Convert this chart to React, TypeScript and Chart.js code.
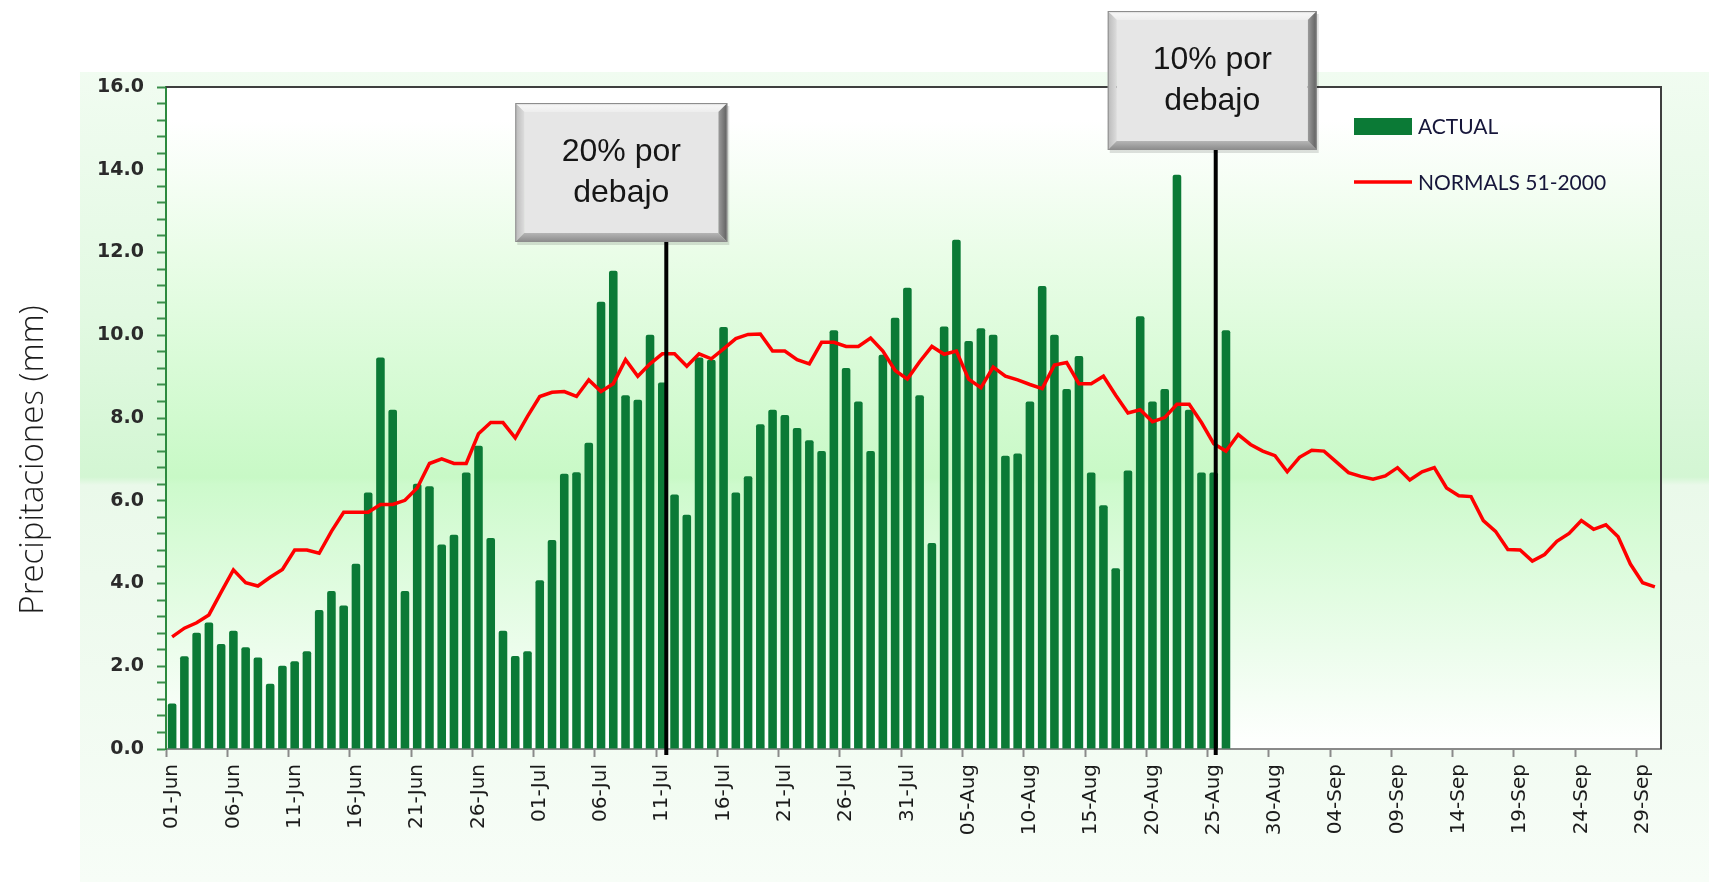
import React, { useEffect, useRef } from 'react';
import { Chart, registerables } from 'chart.js';

Chart.register(...registerables);

// ---------- categories (daily, 01-Jun .. 30-Sep) ----------
const MONTHS: [string, number][] = [
  ['Jun', 30],
  ['Jul', 31],
  ['Aug', 31],
  ['Sep', 30],
];
const CATEGORIES: string[] = [];
for (const [m, n] of MONTHS) {
  for (let d = 1; d <= n; d++) CATEGORIES.push(`${String(d).padStart(2, '0')}-${m}`);
}

// ---------- ACTUAL (mm) ----------
const ACTUAL_JUN = [
  1.1, 2.24, 2.81, 3.06, 2.54, 2.86, 2.46, 2.21, 1.58, 2.01,
  2.12, 2.36, 3.36, 3.82, 3.47, 4.48, 6.2, 9.46, 8.2, 3.82,
  6.41, 6.35, 4.94, 5.18, 6.68, 7.33, 5.1, 2.86, 2.25, 2.36,
];
const ACTUAL_JUL = [
  4.08, 5.05, 6.65, 6.69, 7.4, 10.81, 11.56, 8.55, 8.44, 10.01,
  8.86, 6.15, 5.66, 9.46, 9.41, 10.2, 6.2, 6.59, 7.85, 8.2,
  8.07, 7.76, 7.46, 7.2, 10.12, 9.21, 8.4, 7.2, 9.53, 10.42, 11.15,
];
const ACTUAL_AUG = [
  8.55, 4.98, 10.21, 12.31, 9.86, 10.17, 10.01, 7.09, 7.14, 8.4,
  11.19, 10.01, 8.7, 9.5, 6.68, 5.89, 4.37, 6.73, 10.46, 8.4,
  8.7, 13.88, 8.2, 6.68, 6.68, 10.12,
];

// ---------- NORMALS 51-2000 (mm) ----------
const NORMAL_JUN = [
  2.71, 2.92, 3.05, 3.24, 3.79, 4.33, 4.02, 3.94, 4.15, 4.34,
  4.81, 4.81, 4.73, 5.26, 5.72, 5.72, 5.72, 5.91, 5.91, 6.01,
  6.31, 6.9, 7.01, 6.9, 6.9, 7.62, 7.89, 7.89, 7.52, 8.04,
];
const NORMAL_JUL = [
  8.52, 8.62, 8.64, 8.52, 8.92, 8.64, 8.83, 9.41, 9.01, 9.31,
  9.55, 9.55, 9.25, 9.55, 9.43, 9.67, 9.92, 10.02, 10.03, 9.62,
  9.62, 9.41, 9.31, 9.83, 9.83, 9.73, 9.73, 9.93, 9.62, 9.15, 8.94,
];
const NORMAL_AUG = [
  9.36, 9.73, 9.54, 9.62, 8.94, 8.73, 9.23, 9.01, 8.92, 8.81,
  8.71, 9.28, 9.34, 8.83, 8.83, 9.01, 8.55, 8.12, 8.2, 7.91,
  8.01, 8.33, 8.33, 7.89, 7.38, 7.2, 7.6, 7.36, 7.2, 7.09, 6.7,
];
const NORMAL_SEP = [
  7.05, 7.22, 7.2, 6.94, 6.68, 6.59, 6.52, 6.6, 6.8, 6.5,
  6.7, 6.8, 6.31, 6.12, 6.1, 5.52, 5.26, 4.82, 4.81, 4.54,
  4.7, 5.02, 5.21, 5.52, 5.31, 5.42, 5.13, 4.47, 4.02, 3.92,
];

const ACTUAL = [...ACTUAL_JUN, ...ACTUAL_JUL, ...ACTUAL_AUG];
const NORMALS = [...NORMAL_JUN, ...NORMAL_JUL, ...NORMAL_AUG, ...NORMAL_SEP];

const SERIES_LABELS = ['ACTUAL', 'NORMALS 51-2000'];
const Y_TITLE = 'Precipitaciones (mm)';
const Y_MIN = 0;
const Y_MAX = 16;
const Y_MINOR_STEP = 0.4;
const Y_MAJOR_STEP = 2;
const LABEL_EVERY = 5;

// annotation callouts: category index + text
const CALLOUT_INDEX = [40, 85];
const CALLOUT_TEXT = [
  ['20% por', 'debajo'],
  ['10% por', 'debajo'],
];

const BAR_COLOR = '#0b7a36';
const LINE_COLOR = '#ff0000';

function drawBevelBox(ctx: CanvasRenderingContext2D, x: number, y: number, w: number, h: number, lines: string[]) {
  const b = 9;
  ctx.save();
  ctx.fillStyle = 'rgba(0,0,0,0.12)';
  ctx.fillRect(x + 2, y + 3, w, h);
  const gt = ctx.createLinearGradient(0, y, 0, y + b);
  gt.addColorStop(0, '#cfcfcf');
  gt.addColorStop(0.3, '#f6f6f6');
  gt.addColorStop(1, '#ededed');
  ctx.fillStyle = gt;
  ctx.beginPath();
  ctx.moveTo(x, y); ctx.lineTo(x + w, y); ctx.lineTo(x + w - b, y + b); ctx.lineTo(x + b, y + b); ctx.closePath();
  ctx.fill();
  const gl = ctx.createLinearGradient(x, 0, x + b, 0);
  gl.addColorStop(0, '#b9b9b9');
  gl.addColorStop(1, '#dcdcdc');
  ctx.fillStyle = gl;
  ctx.beginPath();
  ctx.moveTo(x, y); ctx.lineTo(x + b, y + b); ctx.lineTo(x + b, y + h - b); ctx.lineTo(x, y + h); ctx.closePath();
  ctx.fill();
  const gr = ctx.createLinearGradient(x + w - b, 0, x + w, 0);
  gr.addColorStop(0, '#9c9c9c');
  gr.addColorStop(1, '#5e5e5e');
  ctx.fillStyle = gr;
  ctx.beginPath();
  ctx.moveTo(x + w, y); ctx.lineTo(x + w, y + h); ctx.lineTo(x + w - b, y + h - b); ctx.lineTo(x + w - b, y + b); ctx.closePath();
  ctx.fill();
  const gb = ctx.createLinearGradient(0, y + h - b, 0, y + h);
  gb.addColorStop(0, '#b5b5b5');
  gb.addColorStop(1, '#8a8a8a');
  ctx.fillStyle = gb;
  ctx.beginPath();
  ctx.moveTo(x, y + h); ctx.lineTo(x + w, y + h); ctx.lineTo(x + w - b, y + h - b); ctx.lineTo(x + b, y + h - b); ctx.closePath();
  ctx.fill();
  ctx.fillStyle = '#e6e6e6';
  ctx.fillRect(x + b, y + b, w - 2 * b, h - 2 * b);
  ctx.strokeStyle = '#8d8d8d';
  ctx.lineWidth = 1;
  ctx.strokeRect(x + 0.5, y + 0.5, w - 1, h - 1);
  ctx.fillStyle = '#161616';
  ctx.font = '32px "Liberation Sans", Arial, sans-serif';
  ctx.textAlign = 'center';
  ctx.textBaseline = 'middle';
  const cx = x + w / 2;
  const cy = y + h / 2;
  ctx.fillText(lines[0], cx, cy - 20);
  ctx.fillText(lines[1], cx, cy + 21);
  ctx.restore();
}

const backgroundPlugin = {
  id: 'bgPlugin',
  beforeDraw(chart: any) {
    const { ctx, chartArea: a, width, height } = chart;
    ctx.save();
    ctx.fillStyle = '#ffffff';
    ctx.fillRect(0, 0, width, height);
    const g = ctx.createLinearGradient(0, 72, 0, height);
    g.addColorStop(0, '#f1fcf1');
    g.addColorStop(0.3, '#e2f9e2');
    g.addColorStop(0.5, '#d3f6d3');
    g.addColorStop(0.51, '#eaf9ea');
    g.addColorStop(1, '#f7fdf7');
    ctx.fillStyle = g;
    ctx.fillRect(80, 72, width - 80, height - 72);
    const p = ctx.createLinearGradient(0, a.top, 0, a.bottom);
    p.addColorStop(0, '#ffffff');
    p.addColorStop(0.05, '#ffffff');
    p.addColorStop(0.25, '#eafde8');
    p.addColorStop(0.59, '#c8f9c6');
    p.addColorStop(0.6, '#cdfacc');
    p.addColorStop(0.85, '#ecfdec');
    p.addColorStop(1, '#ffffff');
    ctx.fillStyle = p;
    ctx.fillRect(a.left, a.top, a.right - a.left, a.bottom - a.top);
    ctx.restore();
  },
};

const overlayPlugin = {
  id: 'overlayPlugin',
  afterDraw(chart: any) {
    const { ctx, chartArea: a } = chart;
    const xs = chart.scales.x;
    ctx.save();
    ctx.strokeStyle = '#3f3f3f';
    ctx.lineWidth = 2;
    ctx.beginPath();
    ctx.moveTo(a.left, a.top);
    ctx.lineTo(a.right, a.top);
    ctx.lineTo(a.right, a.bottom);
    ctx.stroke();

    // y-axis title
    ctx.save();
    ctx.translate(34, 460);
    ctx.rotate(-Math.PI / 2);
    ctx.fillStyle = '#1c1c1c';
    ctx.font = '300 33px "Open Sans", sans-serif';
    ctx.textAlign = 'center';
    ctx.textBaseline = 'middle';
    ctx.fillText(Y_TITLE, 0, 0);
    ctx.restore();

    // legend
    const lx = 1354;
    ctx.fillStyle = BAR_COLOR;
    ctx.fillRect(lx, 118, 58, 17);
    ctx.strokeStyle = LINE_COLOR;
    ctx.lineWidth = 3.5;
    ctx.beginPath();
    ctx.moveTo(lx, 182);
    ctx.lineTo(lx + 58, 182);
    ctx.stroke();
    ctx.fillStyle = '#16163a';
    ctx.font = '21px Lato, "Noto Sans", sans-serif';
    ctx.textAlign = 'left';
    ctx.textBaseline = 'middle';
    ctx.fillText(SERIES_LABELS[0], lx + 64, 127);
    ctx.fillText(SERIES_LABELS[1], lx + 64, 183);

    // callouts
    const boxes = [
      { dx: 4, left: 151, top: 103, w: 212, h: 139 },
      { dx: 2, left: 108, top: 11, w: 209, h: 139 },
    ];
    CALLOUT_INDEX.forEach((idx, i) => {
      const bx = boxes[i];
      const lineX = xs.getPixelForValue(idx) + bx.dx;
      ctx.strokeStyle = '#000000';
      ctx.lineWidth = 4;
      ctx.beginPath();
      ctx.moveTo(lineX, bx.top + bx.h);
      ctx.lineTo(lineX, a.bottom + 6);
      ctx.stroke();
      drawBevelBox(ctx, lineX - bx.left, bx.top, bx.w, bx.h, CALLOUT_TEXT[i]);
    });
    ctx.restore();
  },
};

function isMajor(v: number) {
  const r = v / Y_MAJOR_STEP;
  return Math.abs(r - Math.round(r)) < 1e-6;
}

export default function App() {
  const canvasRef = useRef<HTMLCanvasElement | null>(null);

  useEffect(() => {
    document.body.style.margin = '0';
    const canvas = canvasRef.current;
    if (!canvas) return;
    const chart = new Chart(canvas, {
      type: 'bar',
      data: {
        labels: CATEGORIES,
        datasets: [
          {
            type: 'line',
            label: SERIES_LABELS[1],
            data: NORMALS,
            borderColor: LINE_COLOR,
            backgroundColor: LINE_COLOR,
            borderWidth: 3.5,
            pointRadius: 0,
            tension: 0,
            order: 0,
          } as any,
          {
            type: 'bar',
            label: SERIES_LABELS[0],
            data: ACTUAL,
            backgroundColor: BAR_COLOR,
            borderWidth: 0,
            borderRadius: 2,
            borderSkipped: 'bottom',
            barPercentage: 0.7,
            categoryPercentage: 1.0,
            order: 1,
          } as any,
        ],
      },
      options: {
        animation: false,
        responsive: false,
        devicePixelRatio: 1,
        layout: { padding: { top: 87, right: 48, bottom: 0, left: 0 } },
        plugins: {
          legend: { display: false },
          tooltip: { enabled: false },
        },
        scales: {
          x: {
            type: 'category',
            offset: true,
            grid: {
              offset: true,
              drawOnChartArea: false,
              drawTicks: true,
              tickLength: 8,
              tickWidth: 2,
              tickColor: (c: any) => (c.index % LABEL_EVERY === 0 ? '#8a8a8a' : 'rgba(0,0,0,0)'),
            },
            border: { color: '#8a8a8a', width: 2 },
            ticks: {
              autoSkip: false,
              maxRotation: 90,
              minRotation: 90,
              padding: 7,
              color: '#1a1a1a',
              font: { family: '"DejaVu Sans", sans-serif', size: 20 },
              callback: (_v: any, i: number) => (i % LABEL_EVERY === 0 ? CATEGORIES[i] : ''),
            },
            afterFit: (s: any) => {
              s.height = 133;
            },
          },
          y: {
            min: Y_MIN,
            max: Y_MAX,
            grid: {
              drawOnChartArea: false,
              drawTicks: true,
              tickLength: 9,
              tickWidth: 2,
              tickColor: '#3b8e4b',
            },
            border: { color: '#2c8a3e', width: 2 },
            ticks: {
              stepSize: Y_MINOR_STEP,
              autoSkip: false,
              padding: 13,
              color: '#2a2a2a',
              font: { family: '"DejaVu Sans", sans-serif', size: 19, weight: 'bold' },
              callback: (v: any) => (isMajor(Number(v)) ? Number(v).toFixed(1) : ''),
            },
            afterFit: (s: any) => {
              s.width = 166;
            },
          },
        },
      } as any,
      plugins: [backgroundPlugin, overlayPlugin],
    });
    return () => chart.destroy();
  }, []);

  return (
    <div style={{ position: 'absolute', left: 0, top: 0, width: 1709, height: 882 }}>
      <canvas ref={canvasRef} width={1709} height={882} style={{ display: 'block' }} />
    </div>
  );
}
